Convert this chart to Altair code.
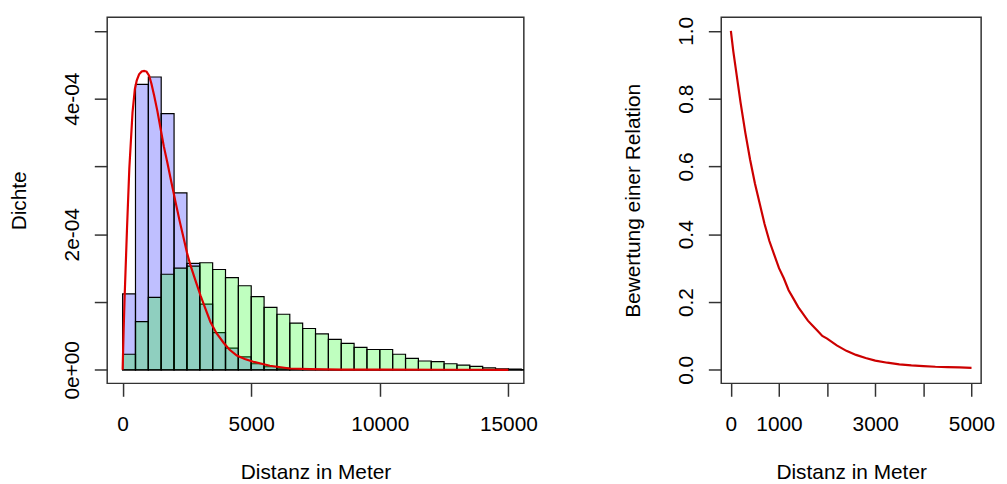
import altair as alt
import pandas as pd

# ---- data ----
bin_start = [0, 500, 1000, 1500, 2000, 2500, 3000, 3500, 4000, 4500, 5000, 5500,
             6000, 6500, 7000, 7500, 8000, 8500, 9000, 9500, 10000, 10500, 11000,
             11500, 12000, 12500, 13000, 13500, 14000, 14500, 15000, 15500]
bin_end = [500, 1000, 1500, 2000, 2500, 3000, 3500, 4000, 4500, 5000, 5500, 6000,
           6500, 7000, 7500, 8000, 8500, 9000, 9500, 10000, 10500, 11000, 11500,
           12000, 12500, 13000, 13500, 14000, 14500, 15000, 15500, 16000]
blue_density = [1.12e-4, 4.21e-4, 4.32e-4, 3.78e-4, 2.61e-4, 1.57e-4, 0.97e-4, 0.55e-4,
                0.32e-4, 0.19e-4, 0.09e-4, 0.045e-4, 0.025e-4, 0.01e-4, 0, 0,
                0, 0, 0, 0, 0, 0, 0, 0, 0, 0, 0, 0, 0, 0, 0, 0]
green_density = [0.23e-4, 0.71e-4, 1.07e-4, 1.41e-4, 1.50e-4, 1.53e-4, 1.58e-4, 1.48e-4,
                 1.36e-4, 1.24e-4, 1.08e-4, 0.92e-4, 0.82e-4, 0.69e-4, 0.61e-4, 0.53e-4,
                 0.45e-4, 0.39e-4, 0.33e-4, 0.30e-4, 0.30e-4, 0.23e-4, 0.17e-4, 0.13e-4,
                 0.12e-4, 0.09e-4, 0.07e-4, 0.05e-4, 0.03e-4, 0.015e-4, 0.01e-4, 0.005e-4]

curve_d = [0, 40, 80, 170, 260, 385, 475, 550, 640, 740, 835, 930, 1030, 1120, 1223,
           1350, 1480, 1600, 1738, 1900, 2060, 2220, 2380, 2500, 2640, 2830, 3025, 3200,
           3410, 3650, 3925, 4150, 4440, 4750, 5080, 5726, 6500, 7270, 8500, 10000,
           12500, 15000]
curve_density = [0, 0.6e-4, 1.1e-4, 2.08e-4, 2.97e-4, 3.8e-4, 4.14e-4, 4.27e-4, 4.36e-4,
                 4.40e-4, 4.41e-4, 4.40e-4, 4.34e-4, 4.22e-4, 4.05e-4, 3.82e-4, 3.55e-4,
                 3.30e-4, 3.06e-4, 2.76e-4, 2.47e-4, 2.19e-4, 1.93e-4, 1.73e-4, 1.54e-4,
                 1.32e-4, 1.10e-4, 0.92e-4, 0.71e-4, 0.54e-4, 0.40e-4, 0.30e-4, 0.21e-4,
                 0.16e-4, 0.12e-4, 0.06e-4, 0.02e-4, 0.01e-4, 0.004e-4, 0.002e-4,
                 0.001e-4, 0]

weight_d = [0, 50, 100, 150, 200, 250, 300, 400, 500, 600, 700, 800, 900, 1000, 1100,
            1200, 1300, 1400, 1500, 1600, 1700, 1800, 1900, 2000, 2200, 2400, 2600, 2800,
            3000, 3250, 3500, 3750, 4000, 4250, 4500, 4750, 5000]
weight_val = [1.0, 0.94, 0.89, 0.84, 0.79, 0.745, 0.70, 0.62, 0.55, 0.49, 0.43, 0.38,
              0.34, 0.30, 0.27, 0.235, 0.21, 0.185, 0.165, 0.145, 0.13, 0.115, 0.10,
              0.092, 0.072, 0.056, 0.044, 0.035, 0.027, 0.021, 0.016, 0.013, 0.011,
              0.009, 0.008, 0.007, 0.006]

hist_x_ticks = [0, 5000, 10000, 15000]
hist_y_ticks = [0, 1e-4, 2e-4, 3e-4, 4e-4, 5e-4]
w_x_ticks = [0, 1000, 2000, 3000, 4000, 5000]
w_y_ticks = [0.0, 0.2, 0.4, 0.6, 0.8, 1.0]

FONT = "Liberation Sans"
FS = 21
AX = "#333333"

hist_df = pd.DataFrame({"start": bin_start, "end": bin_end,
                        "blue": blue_density, "green": green_density})
curve_df = pd.DataFrame({"d": curve_d, "dens": curve_density})
w_df = pd.DataFrame({"d": weight_d, "w": weight_val})

axis_common = dict(grid=False, domain=False, tickColor=AX, tickWidth=1.5, tickSize=13,
                   labelFont=FONT, labelFontSize=FS, labelColor="#000000",
                   titleFont=FONT, titleFontSize=FS, titleFontWeight="normal",
                   titleColor="#000000", labelOverlap=False, labelFlush=False)

X_LP, X_TP = 17, 28
Y_LP, Y_TP = 12, 32

xh = alt.X("start:Q", scale=alt.Scale(domain=[-600, 15600], nice=False, zero=False),
           axis=alt.Axis(values=hist_x_ticks, title="Distanz in Meter", labelPadding=X_LP,
                         titlePadding=X_TP, format="d", **axis_common))
yh = alt.Y("blue:Q", scale=alt.Scale(domain=[-0.2e-4, 5.2e-4], nice=False, zero=False),
           axis=alt.Axis(values=hist_y_ticks, title="Dichte", labelAngle=-90,
                         labelPadding=Y_LP, titlePadding=Y_TP,
                         labelExpr="datum.value == 0 ? '0e+00' : (abs(datum.value - 0.0002) < 1e-9 ? '2e-04' : (abs(datum.value - 0.0004) < 1e-9 ? '4e-04' : ''))",
                         **axis_common))

blue_bars = alt.Chart(hist_df).mark_rect(fill="#0000ff", fillOpacity=0.25, stroke="#000000",
                                         strokeWidth=1.2, clip=True).encode(
    x=xh, x2="end:Q", y=yh, y2=alt.datum(0))
green_bars = alt.Chart(hist_df).mark_rect(fill="#00ff00", fillOpacity=0.25, stroke="#000000",
                                          strokeWidth=1.2, clip=True).encode(
    x="start:Q", x2="end:Q", y="green:Q", y2=alt.datum(0))
red_curve = alt.Chart(curve_df).mark_line(color="#dd0000", strokeWidth=2.2, clip=True).encode(
    x="d:Q", y="dens:Q")

left = alt.layer(blue_bars, green_bars, red_curve).properties(width=420, height=369)

xw = alt.X("d:Q", scale=alt.Scale(domain=[-200, 5200], nice=False, zero=False),
           axis=alt.Axis(values=w_x_ticks, title="Distanz in Meter", labelPadding=X_LP,
                         titlePadding=X_TP,
                         labelExpr="datum.value == 2000 || datum.value == 4000 ? '' : datum.label",
                         format="d", **axis_common))
yw = alt.Y("w:Q", scale=alt.Scale(domain=[-0.04, 1.04], nice=False, zero=False),
           axis=alt.Axis(values=w_y_ticks, title="Bewertung einer Relation", labelAngle=-90,
                         labelPadding=Y_LP, titlePadding=Y_TP, format=".1f", **axis_common))
right = alt.Chart(w_df).mark_line(color="#cc0000", strokeWidth=2.2).encode(
    x=xw, y=yw).properties(width=262, height=369)

# fixed overall canvas (999 x 476) so the page never overflows the window;
# with autosize "none" the padding places the first plot area's top-left corner
chart = alt.hconcat(left, right, spacing=84).properties(
    autosize=alt.AutoSizeParams(type="none"),
    padding={"left": 100, "top": 6, "right": 899, "bottom": 470},
    background="#ffffff"
).configure_view(stroke=AX, strokeWidth=1.5)

chart.save("out.html", embed_options={"renderer": "svg", "actions": False})
